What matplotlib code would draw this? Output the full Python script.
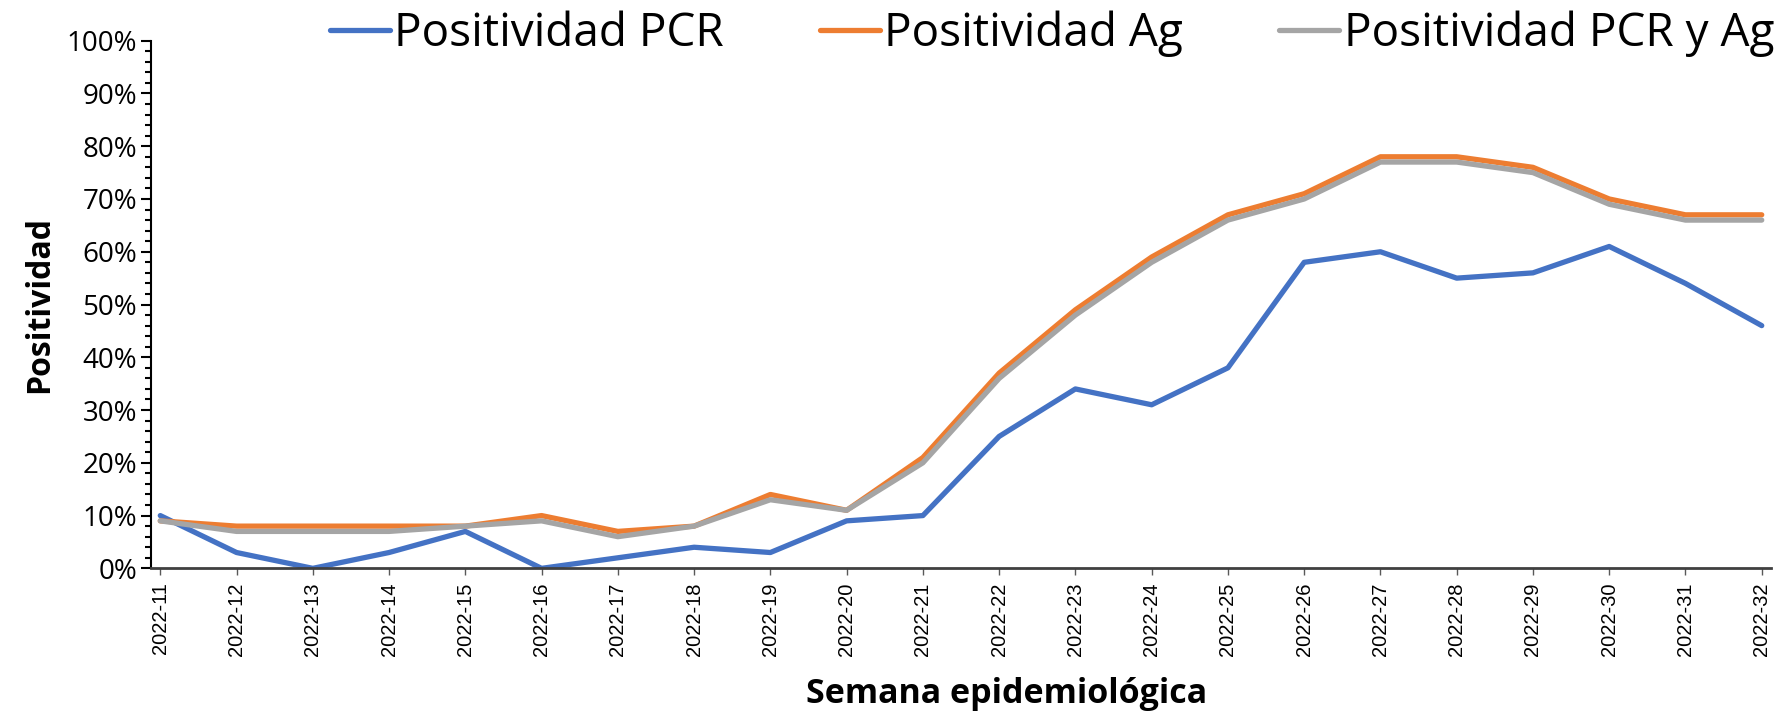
import matplotlib.pyplot as plt
from matplotlib.ticker import MultipleLocator, PercentFormatter

semanas = ['2022-%d' % s for s in range(11, 33)]
pos_pcr = [10, 3, 0, 3, 7, 0, 2, 4, 3, 9, 10, 25, 34, 31, 38, 58, 60, 55, 56, 61, 54, 46]
pos_ag = [9, 8, 8, 8, 8, 10, 7, 8, 14, 11, 21, 37, 49, 59, 67, 71, 78, 78, 76, 70, 67, 67]
pos_ambas = [9, 7, 7, 7, 8, 9, 6, 8, 13, 11, 20, 36, 48, 58, 66, 70, 77, 77, 75, 69, 66, 66]

fig = plt.figure(figsize=(17.78, 7.14), dpi=100)
ax = fig.add_axes([0.085, 0.204, 0.911, 0.739])

x = range(len(semanas))
ax.plot(x, pos_pcr, color='#4472C4', lw=3.8, label='Positividad PCR', solid_capstyle='round')
ax.plot(x, pos_ag, color='#ED7D31', lw=3.8, label='Positividad Ag', solid_capstyle='round')
ax.plot(x, pos_ambas, color='#A5A5A5', lw=3.8, label='Positividad PCR y Ag', solid_capstyle='round')

ax.set_xlim(-0.12, 21.12)
ax.set_ylim(0, 100)
ax.yaxis.set_major_locator(MultipleLocator(10))
ax.yaxis.set_minor_locator(MultipleLocator(2))
ax.yaxis.set_major_formatter(PercentFormatter(decimals=0))
ax.set_xticks(list(x))
ax.set_xticklabels(semanas, rotation=90, fontsize=14.5, family='Liberation Sans')
for t in ax.get_yticklabels():
    t.set_fontsize(20)
    t.set_family('Open Sans')
ax.tick_params(axis='y', which='major', length=7, width=1.5, direction='out', pad=3)
ax.tick_params(axis='y', which='minor', length=4, width=1.5, direction='out')
ax.tick_params(axis='x', length=5, width=1, color='#595959', pad=5)

for s in ['top', 'right']:
    ax.spines[s].set_visible(False)
ax.spines['left'].set_linewidth(1.5)
ax.spines['bottom'].set_linewidth(2)
ax.spines['bottom'].set_color('#404040')

ax.set_ylabel('Positividad', fontsize=23, fontweight='bold', family='Open Sans', labelpad=8)
ax.set_xlabel('Semana epidemiológica', fontsize=24.5, fontweight='bold', family='Open Sans')
ax.xaxis.set_label_coords(0.528, -0.205)

fig.legend(loc='upper right', bbox_to_anchor=(1.021, 1.043), ncol=3, frameon=False,
           prop={'family': 'Open Sans', 'size': 33}, handlelength=1.3,
           handletextpad=0.1, columnspacing=2.1)

fig.savefig('out.png', dpi=100)
